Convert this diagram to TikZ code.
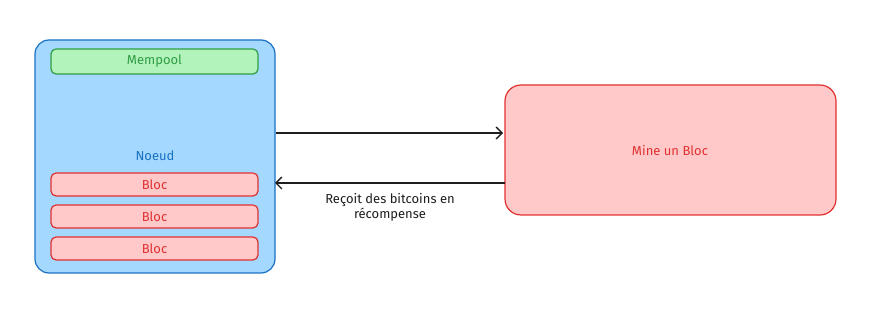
\documentclass[tikz,border=0pt]{standalone}
\usepackage{fontspec}
\setmainfont{Fira Sans}
\usetikzlibrary{arrows.meta}
\definecolor{blueFill}{HTML}{A5D8FF}
\definecolor{blueLine}{HTML}{1971C2}
\definecolor{greenFill}{HTML}{B2F2BB}
\definecolor{greenLine}{HTML}{2F9E44}
\definecolor{redFill}{HTML}{FFC9C9}
\definecolor{redLine}{HTML}{E03131}
\definecolor{ink}{HTML}{1E1E1E}
\tikzset{
  x=1pt, y=-1pt,
  box/.style={rounded corners=#1, line width=1.2pt},
  nodebox/.style={box=14pt, draw=blueLine, fill=blueFill},
  poolbox/.style={box=5pt, draw=greenLine, fill=greenFill},
  blocbox/.style={box=5pt, draw=redLine, fill=redFill},
  minebox/.style={box=16pt, draw=redLine, fill=redFill},
  lbl/.style={font=\fontsize{13}{15}\selectfont, inner sep=0pt},
  link/.style={draw=ink, line width=1.3pt, -{Straight Barb[length=6pt,width=12pt]}},
}
\begin{document}
\begin{tikzpicture}
\useasboundingbox (0,0) rectangle (871,312);
% node container with its mempool and blocks
\draw[nodebox] (35,40) rectangle (275,273);
\draw[poolbox] (51,49) rectangle (258,74);
\node[lbl, text=greenLine] (pool) at (154.5,61) {Mempool};
\node[lbl, text=blueLine] (noeud) at (155,156) {Noeud};
\draw[blocbox] (51,173) rectangle (258,196);
\node[lbl, text=redLine] (b1) at (154.5,184.5) {Bloc};
\draw[blocbox] (51,205) rectangle (258,228);
\node[lbl, text=redLine] (b2) at (154.5,216.5) {Bloc};
\draw[blocbox] (51,237) rectangle (258,260);
\node[lbl, text=redLine] (b3) at (154.5,248.5) {Bloc};
% miner
\draw[minebox] (505,85) rectangle (836,215);
\node[lbl, text=redLine] (mine) at (670,151) {Mine un Bloc};
% exchanges between node and miner
\coordinate (nA) at (276,133);
\coordinate (mA) at (503,133);
\coordinate (mB) at (505,183);
\coordinate (nB) at (275,183);
\draw[link] (nA) -- (mA);
\draw[link] (mB) -- (nB);
\node[lbl, text=ink, align=center] (reward) at (390,207.5) {Reçoit des bitcoins en\\récompense};
\end{tikzpicture}
\end{document}
